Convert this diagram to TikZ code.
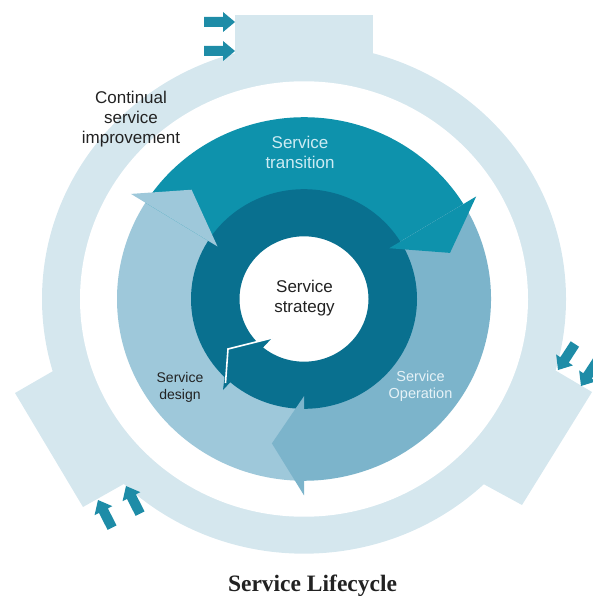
\documentclass[tikz,border=0pt]{standalone}
\usepackage{fontspec}
\setmainfont{Liberation Sans}
\newfontfamily\titlefont{Liberation Serif}
\definecolor{csilight}{RGB}{213,231,238}
\definecolor{arrowteal}{RGB}{30,140,167}
\definecolor{transteal}{RGB}{14,146,172}
\definecolor{ringdark}{RGB}{9,112,143}
\definecolor{designblue}{RGB}{158,200,218}
\definecolor{operblue}{RGB}{124,180,203}
\definecolor{txtdark}{RGB}{34,34,34}
\definecolor{txtlight}{RGB}{205,235,243}
\definecolor{txtwhite}{RGB}{230,242,247}
\begin{document}
\begin{tikzpicture}[x=1pt,y=-1pt,
  lbl/.style={align=center,inner sep=0pt},
  bigtext/.style={lbl,font=\fontsize{17}{20}\selectfont},
  smalltext/.style={lbl,font=\fontsize{14}{17}\selectfont},
  smallarrow/.pic={\fill[arrowteal] (0,0) -- (-12,-10) -- (-12,-5) -- (-31,-5)
      -- (-31,5) -- (-12,5) -- (-12,10) -- cycle;}]
\useasboundingbox (0,0) rectangle (593,596);

% wide blocks of the improvement ring
\fill[csilight] (235,15) rectangle (373,100);
\fill[csilight] (15,393) -- (83,507) -- (161,463) -- (93,348) -- cycle;
\fill[csilight] (592,392) -- (522,505) -- (443,462) -- (514,346) -- cycle;

\begin{scope}[shift={(304,299)},yscale=-0.972]
  % improvement ring and the white gap inside it
  \fill[csilight] (0,0) circle[radius=262];
  \fill[white] (0,0) circle[radius=224];
  % middle ring: design, transition, operation
  \fill[designblue] (-90:187) arc[start angle=-90,end angle=-212,radius=187]
    -- (148:108) arc[start angle=148,end angle=270,radius=108] -- cycle;
  \fill[transteal] (148:187) arc[start angle=148,end angle=31.5,radius=187]
    -- (31.5:108) arc[start angle=31.5,end angle=148,radius=108] -- cycle;
  \fill[operblue] (31.5:187) arc[start angle=31.5,end angle=-90,radius=187]
    -- (-90:108) arc[start angle=-90,end angle=31.5,radius=108] -- cycle;
  % strategy ring
  \fill[ringdark,even odd rule] (0,0) circle[radius=113] (0,0) circle[radius=64.5];
  % arrow heads of the middle ring
  \fill[transteal] (31.5:100) -- (31.5:202) -- (18:153.5) -- cycle;
  \fill[operblue] (-90:100) -- (-90:202) -- (-102.2:152) -- cycle;
  \fill[designblue] (148:102) -- (148:204) -- (135:159) -- cycle;
\end{scope}

% head of the strategy ring
\fill[ringdark] (272,338) -- (228,349) -- (223,390) -- cycle;
\draw[white,line width=1.6pt,line join=miter] (272,338) -- (228,349) -- (225.5,383);

% inputs to the improvement ring
\pic[rotate=0] at (235,22) {smallarrow};
\pic[rotate=0] at (235,51) {smallarrow};
\pic[rotate=117] at (98,500) {smallarrow};
\pic[rotate=117] at (126,486) {smallarrow};
\pic[rotate=237] at (558,370) {smallarrow};
\pic[rotate=237] at (581,386) {smallarrow};

% labels
\node[lbl,font=\fontsize{17}{20.3}\selectfont,text=txtdark] (csi) at (131,119)
  {Continual\\service\\improvement};
\node[bigtext,text=txtlight] (transition) at (300,152) {Service\\transition};
\node[bigtext,text=txtdark] (strategy) at (304.5,298) {Service\\strategy};
\node[smalltext,text=txtdark] (design) at (180,387) {Service\\design};
\node[lbl,font=\fontsize{14.5}{16.7}\selectfont,text=txtwhite] (operation) at (420.5,386)
  {Service\\Operation};
\node[inner sep=0pt,anchor=base,text=txtdark,
  font=\titlefont\bfseries\fontsize{23.5}{28}\selectfont] (title) at (312.5,591.5)
  {Service Lifecycle};
\end{tikzpicture}
\end{document}
